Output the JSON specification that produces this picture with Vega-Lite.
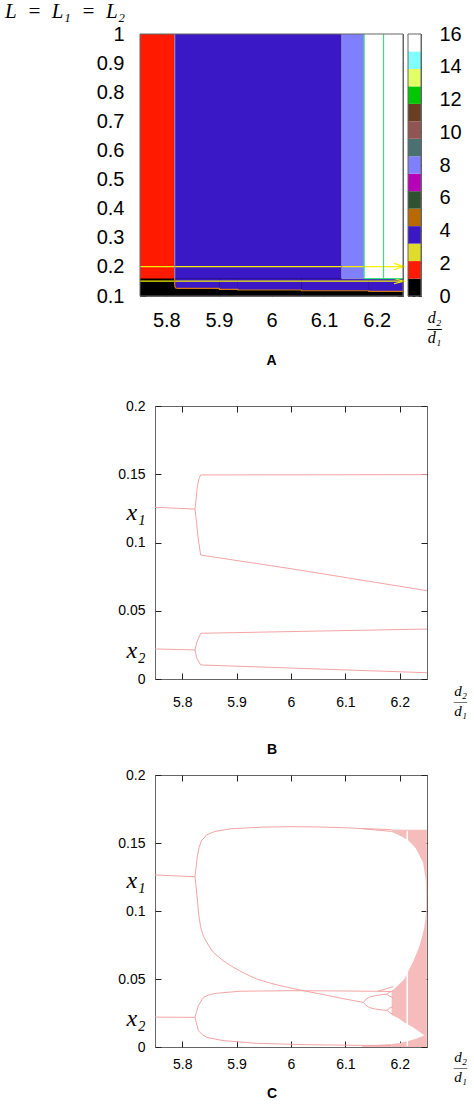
{
  "$schema": "https://vega.github.io/schema/vega-lite/v6.json",
  "padding": 0,
  "background": "white",
  "title": {"text": "L\u2002=\u2002L₁\u2002=\u2002L₂", "anchor": "start", "frame": "bounds", "font": "Liberation Serif", "fontStyle": "italic", "fontWeight": "normal", "fontSize": 21, "color": "#000", "dx": 5, "offset": 2},
  "config": {
    "view": {"stroke": "#666", "strokeWidth": 1},
    "axis": {"grid": false, "domain": false, "zindex": 1, "labelFont": "Liberation Sans", "labelColor": "#000", "tickColor": "#222", "titleFont": "Liberation Serif", "titleFontStyle": "italic", "titleFontWeight": "normal", "titleColor": "#000", "labelFlush": false, "labelOverlap": false},
    "title": {"font": "Liberation Sans", "fontWeight": "bold", "fontSize": 14, "color": "#000"}
  },
  "spacing": 29,
  "vconcat": [
    {
      "spacing": 0,
      "hconcat": [
        {"width": 95, "height": 1, "view": {"stroke": null}, "data": {"values": [{}]}, "mark": {"type": "rect", "opacity": 0}},
        {
          "width": 263, "height": 262,
          "title": {"text": "A", "orient": "bottom", "anchor": "middle", "offset": 24},
          "layer": [
            {
              "data": {"values": [
                {"x": 5.75, "x2": 6.25, "y": 0.1, "y2": 1, "v": 0},
                {"x": 5.75, "x2": 5.816, "y": 0.16, "y2": 1, "v": 1},
                {"x": 5.816, "x2": 6.1336, "y": 0.16, "y2": 1, "v": 3},
                {"x": 6.1336, "x2": 6.176, "y": 0.16, "y2": 1, "v": 7},
                {"x": 6.176, "x2": 6.25, "y": 0.16, "y2": 1, "v": 14},
                {"x": 5.816, "x2": 5.901, "y": 0.1265, "y2": 0.16, "v": 3},
                {"x": 5.901, "x2": 5.936, "y": 0.123, "y2": 0.16, "v": 3},
                {"x": 5.936, "x2": 6.057, "y": 0.1206, "y2": 0.16, "v": 3},
                {"x": 6.057, "x2": 6.185, "y": 0.118, "y2": 0.16, "v": 3},
                {"x": 6.185, "x2": 6.25, "y": 0.116, "y2": 0.16, "v": 3}
              ]},
              "mark": {"type": "rect"},
              "encoding": {
                "x": {"field": "x", "type": "quantitative", "scale": {"domain": [5.75, 6.25], "nice": false, "zero": false},
                      "axis": {"orient": "bottom", "values": [5.8, 5.9, 6, 6.1, 6.2], "format": "~g", "labelFontSize": 20, "tickSize": -6, "labelPadding": 20, "title": null}},
                "x2": {"field": "x2"},
                "y": {"field": "y", "type": "quantitative", "scale": {"domain": [0.1, 1], "nice": false, "zero": false},
                      "axis": {"orient": "left", "values": [0.1, 0.2, 0.3, 0.4, 0.5, 0.6, 0.7, 0.8, 0.9, 1], "format": "~g", "labelFontSize": 20, "tickSize": -6, "labelPadding": 22, "title": null}},
                "y2": {"field": "y2"},
                "color": {"field": "v", "type": "ordinal", "legend": null,
                          "scale": {"domain": [0,1,2,3,4,5,6,7,8,9,10,11,12,13,14], "range": ["#000000","#ff1a00","#e0dc2c","#3a18c6","#b86a00","#2e5232","#b800b8","#8080ff","#4b7070","#905552","#6a3e22","#00c800","#e2ff66","#80ffff","#ffffff"]}}
              }
            },
            {
              "data": {"values": [
                {"s": "a1", "o": 0, "x": 5.75, "y": 0.201, "k": "arrow"},
                {"s": "a1", "o": 1, "x": 6.2515, "y": 0.201, "k": "arrow"},
                {"s": "a1h", "o": 0, "x": 6.233, "y": 0.212, "k": "arrow"},
                {"s": "a1h", "o": 1, "x": 6.2515, "y": 0.201, "k": "arrow"},
                {"s": "a1h", "o": 2, "x": 6.233, "y": 0.19, "k": "arrow"},
                {"s": "a2", "o": 0, "x": 5.75, "y": 0.151, "k": "arrow"},
                {"s": "a2", "o": 1, "x": 6.2515, "y": 0.151, "k": "arrow"},
                {"s": "a2h", "o": 0, "x": 6.233, "y": 0.16, "k": "arrow"},
                {"s": "a2h", "o": 1, "x": 6.2515, "y": 0.151, "k": "arrow"},
                {"s": "a2h", "o": 2, "x": 6.233, "y": 0.142, "k": "arrow"},
                {"s": "g1", "o": 0, "x": 6.176, "y": 0.16, "k": "green"},
                {"s": "g1", "o": 1, "x": 6.176, "y": 1, "k": "green"},
                {"s": "g2", "o": 0, "x": 6.213, "y": 0.16, "k": "green"},
                {"s": "g2", "o": 1, "x": 6.213, "y": 1, "k": "green"},
                {"s": "g3", "o": 0, "x": 6.176, "y": 0.16, "k": "green"},
                {"s": "g3", "o": 1, "x": 6.25, "y": 0.16, "k": "green"},
                {"s": "e1", "o": 0, "x": 5.816, "y": 0.16, "k": "edge"},
                {"s": "e1", "o": 1, "x": 5.816, "y": 1, "k": "edge"},
                {"s": "e2", "o": 0, "x": 6.1336, "y": 0.16, "k": "edge"},
                {"s": "e2", "o": 1, "x": 6.1336, "y": 1, "k": "edge"},
                {"s": "e3", "o": 0, "x": 6.1336, "y": 0.16, "k": "edge"},
                {"s": "e3", "o": 1, "x": 6.176, "y": 0.16, "k": "edge"},
                {"s": "or", "o": 0, "x": 5.8158, "y": 0.16, "k": "orange"},
                {"s": "or", "o": 1, "x": 5.816, "y": 0.135, "k": "orange"},
                {"s": "or", "o": 2, "x": 5.818, "y": 0.1275, "k": "orange"},
                {"s": "or", "o": 3, "x": 5.822, "y": 0.1265, "k": "orange"},
                {"s": "or", "o": 4, "x": 5.901, "y": 0.1265, "k": "orange"},
                {"s": "or", "o": 5, "x": 5.901, "y": 0.123, "k": "orange"},
                {"s": "or", "o": 6, "x": 5.936, "y": 0.123, "k": "orange"},
                {"s": "or", "o": 7, "x": 5.936, "y": 0.1206, "k": "orange"},
                {"s": "or", "o": 8, "x": 6.057, "y": 0.1206, "k": "orange"},
                {"s": "or", "o": 9, "x": 6.057, "y": 0.118, "k": "orange"},
                {"s": "or", "o": 10, "x": 6.185, "y": 0.118, "k": "orange"},
                {"s": "or", "o": 11, "x": 6.185, "y": 0.116, "k": "orange"},
                {"s": "or", "o": 12, "x": 6.25, "y": 0.116, "k": "orange"}
              ]},
              "mark": {"type": "line", "strokeWidth": 1.2, "clip": false},
              "encoding": {
                "x": {"field": "x", "type": "quantitative", "scale": {"domain": [5.75, 6.25], "nice": false, "zero": false}, "axis": null},
                "y": {"field": "y", "type": "quantitative", "scale": {"domain": [0.1, 1], "nice": false, "zero": false}, "axis": null},
                "detail": {"field": "s"},
                "order": {"field": "o"},
                "stroke": {"field": "k", "type": "nominal", "legend": null,
                           "scale": {"domain": ["arrow", "green", "edge", "orange"], "range": ["#f4f000", "#3ee07a", "#8c8cc8", "#d07a10"]}}
              }
            },
            {
              "data": {"values": [{"x": 5.75, "x2": 6.25, "y": 0.1, "y2": 1}]},
              "mark": {"type": "rect", "fill": null, "stroke": "#666", "strokeWidth": 1},
              "encoding": {
                "x": {"field": "x", "type": "quantitative", "scale": {"domain": [5.75, 6.25], "nice": false, "zero": false},
                      "axis": {"orient": "top", "values": [5.8, 5.9, 6, 6.1, 6.2], "labels": false, "tickSize": -6, "title": null}},
                "x2": {"field": "x2"},
                "y": {"field": "y", "type": "quantitative", "scale": {"domain": [0.1, 1], "nice": false, "zero": false},
                      "axis": {"orient": "right", "values": [0.1, 0.2, 0.3, 0.4, 0.5, 0.6, 0.7, 0.8, 0.9, 1], "labels": false, "tickSize": -6, "title": null}},
                "y2": {"field": "y2"}
              }
            }
          ],
          "resolve": {"axis": {"x": "independent", "y": "independent"}}
        },
        {
          "width": 13, "height": 262,
          "layer": [
            {
              "data": {"values": [
                {"c": "", "v": 0, "lo": 0, "hi": 1.0667},
                {"c": "", "v": 1, "lo": 1.0667, "hi": 2.1333},
                {"c": "", "v": 2, "lo": 2.1333, "hi": 3.2},
                {"c": "", "v": 3, "lo": 3.2, "hi": 4.2667},
                {"c": "", "v": 4, "lo": 4.2667, "hi": 5.3333},
                {"c": "", "v": 5, "lo": 5.3333, "hi": 6.4},
                {"c": "", "v": 6, "lo": 6.4, "hi": 7.4667},
                {"c": "", "v": 7, "lo": 7.4667, "hi": 8.5333},
                {"c": "", "v": 8, "lo": 8.5333, "hi": 9.6},
                {"c": "", "v": 9, "lo": 9.6, "hi": 10.6667},
                {"c": "", "v": 10, "lo": 10.6667, "hi": 11.7333},
                {"c": "", "v": 11, "lo": 11.7333, "hi": 12.8},
                {"c": "", "v": 12, "lo": 12.8, "hi": 13.8667},
                {"c": "", "v": 13, "lo": 13.8667, "hi": 14.9333},
                {"c": "", "v": 14, "lo": 14.9333, "hi": 16}
              ]},
              "mark": {"type": "rect"},
              "encoding": {
                "x": {"field": "c", "type": "nominal", "scale": {"paddingInner": 0, "paddingOuter": 0},
                      "axis": {"orient": "bottom", "labels": false, "ticks": false, "title": ["d₂", "—", "d₁"], "titleFontSize": 16, "titleLineHeight": 10, "titleX": 26, "titleY": 21, "titleAlign": "center", "titleBaseline": "middle", "titleAngle": 0}},
                "y": {"field": "lo", "type": "quantitative", "scale": {"domain": [0, 16], "nice": false, "zero": false},
                      "axis": {"orient": "right", "values": [0, 2, 4, 6, 8, 10, 12, 14, 16], "format": "~g", "labelFontSize": 20, "tickSize": -13, "tickDash": [3, 3], "tickColor": "#000", "labelPadding": 31, "title": null}},
                "y2": {"field": "hi"},
                "color": {"field": "v", "type": "ordinal", "legend": null,
                          "scale": {"domain": [0,1,2,3,4,5,6,7,8,9,10,11,12,13,14], "range": ["#000000","#ff1a00","#e0dc2c","#3a18c6","#b86a00","#2e5232","#b800b8","#8080ff","#4b7070","#905552","#6a3e22","#00c800","#e2ff66","#80ffff","#ffffff"]}}
              }
            },
            {
              "data": {"values": [{"c": "", "lo": 0, "hi": 16}]},
              "mark": {"type": "rect", "fill": null, "stroke": "#666", "strokeWidth": 1},
              "encoding": {
                "x": {"field": "c", "type": "nominal", "scale": {"paddingInner": 0, "paddingOuter": 0}, "axis": null},
                "y": {"field": "lo", "type": "quantitative", "scale": {"domain": [0, 16], "nice": false, "zero": false}, "axis": null},
                "y2": {"field": "hi"}
              }
            }
          ],
          "resolve": {"axis": {"x": "independent", "y": "independent"}}
        }
      ]
    },
    {
      "spacing": 9,
      "vconcat": [
        {
          "spacing": 6,
          "hconcat": [
            {"width": 111, "height": 1, "view": {"stroke": null}, "data": {"values": [{}]}, "mark": {"type": "rect", "opacity": 0}},
            {
              "width": 272, "height": 273,
              "title": {"text": "B", "orient": "bottom", "anchor": "middle", "offset": 25, "dx": -19},
              "layer": [
                {
                  "data": {"values": [
                    {"s": "b1", "x": 5.75, "y": 0.1258}, {"s": "b1", "x": 5.8235, "y": 0.1245},
                    {"s": "b2", "x": 5.8235, "y": 0.1245}, {"s": "b2", "x": 5.8254, "y": 0.131}, {"s": "b2", "x": 5.8278, "y": 0.141}, {"s": "b2", "x": 5.831, "y": 0.147}, {"s": "b2", "x": 5.834, "y": 0.1495}, {"s": "b2", "x": 6.25, "y": 0.1497},
                    {"s": "b3", "x": 5.8235, "y": 0.1245}, {"s": "b3", "x": 5.8266, "y": 0.114}, {"s": "b3", "x": 5.8297, "y": 0.1018}, {"s": "b3", "x": 5.834, "y": 0.0908}, {"s": "b3", "x": 6.0, "y": 0.0808}, {"s": "b3", "x": 6.25, "y": 0.0647},
                    {"s": "b4", "x": 5.75, "y": 0.022}, {"s": "b4", "x": 5.8235, "y": 0.0213},
                    {"s": "b5", "x": 5.8235, "y": 0.0213}, {"s": "b5", "x": 5.827, "y": 0.027}, {"s": "b5", "x": 5.834, "y": 0.0335}, {"s": "b5", "x": 6.25, "y": 0.0366},
                    {"s": "b6", "x": 5.8235, "y": 0.0213}, {"s": "b6", "x": 5.827, "y": 0.015}, {"s": "b6", "x": 5.834, "y": 0.0103}, {"s": "b6", "x": 6.25, "y": 0.0046}
                  ]},
                  "mark": {"type": "line", "stroke": "#f3a4a4", "strokeWidth": 1},
                  "encoding": {
                    "x": {"field": "x", "type": "quantitative", "scale": {"domain": [5.75, 6.25], "nice": false, "zero": false},
                          "axis": {"orient": "bottom", "values": [5.8, 5.9, 6, 6.1, 6.2], "format": "~g", "labelFontSize": 14, "tickSize": -6, "labelPadding": 22,
                                   "title": ["d₂", "—", "d₁"], "titleFontSize": 15, "titleLineHeight": 10, "titleX": 305, "titleY": 11, "titleAlign": "center", "titleBaseline": "middle", "titleAngle": 0}},
                    "y": {"field": "y", "type": "quantitative", "scale": {"domain": [0, 0.2], "nice": false, "zero": false},
                          "axis": {"orient": "left", "values": [0, 0.0212, 0.05, 0.1, 0.1223, 0.15, 0.2],
                                   "labelExpr": "datum.value > 0.11 && datum.value < 0.13 ? 'x₁' : (datum.value > 0.015 && datum.value < 0.03 ? 'x₂' : format(datum.value, '~g'))",
                                   "labelFont": {"condition": {"test": "(datum.value > 0.11 && datum.value < 0.13) || (datum.value > 0.015 && datum.value < 0.03)", "value": "Liberation Serif"}, "value": "Liberation Sans"},
                                   "labelFontStyle": {"condition": {"test": "(datum.value > 0.11 && datum.value < 0.13) || (datum.value > 0.015 && datum.value < 0.03)", "value": "italic"}, "value": "normal"},
                                   "labelFontSize": {"condition": {"test": "(datum.value > 0.11 && datum.value < 0.13) || (datum.value > 0.015 && datum.value < 0.03)", "value": 24}, "value": 14},
                                   "tickOpacity": {"condition": {"test": "(datum.value > 0.11 && datum.value < 0.13) || (datum.value > 0.015 && datum.value < 0.03)", "value": 0}, "value": 1},
                                   "tickSize": -6, "labelPadding": 16, "title": null}},
                    "detail": {"field": "s"}
                  }
                },
                {
                  "data": {"values": [{"x": 6, "y": 0.1}]},
                  "mark": {"type": "point", "opacity": 0},
                  "encoding": {
                    "x": {"field": "x", "type": "quantitative", "scale": {"domain": [5.75, 6.25], "nice": false, "zero": false},
                          "axis": {"orient": "top", "values": [5.8, 5.9, 6, 6.1, 6.2], "labels": false, "tickSize": -6, "title": null}},
                    "y": {"field": "y", "type": "quantitative", "scale": {"domain": [0, 0.2], "nice": false, "zero": false},
                          "axis": {"orient": "right", "values": [0, 0.05, 0.1, 0.15, 0.2], "labels": false, "tickSize": -6, "title": null}}
                  }
                }
              ],
              "resolve": {"axis": {"x": "independent", "y": "independent"}}
            }
          ]
        },
        {
          "spacing": 6,
          "hconcat": [
            {"width": 111, "height": 1, "view": {"stroke": null}, "data": {"values": [{}]}, "mark": {"type": "rect", "opacity": 0}},
            {
              "width": 272, "height": 272,
              "title": {"text": "C", "orient": "bottom", "anchor": "middle", "offset": 3, "dx": -19},
              "layer": [
                {
                  "data": {"values": [
                    {"k": "up", "x": 6.185, "y": 0.158, "y2": 0.1598},
                    {"k": "up", "x": 6.195, "y": 0.1565, "y2": 0.1598},
                    {"k": "up", "x": 6.205, "y": 0.1545, "y2": 0.1598},
                    {"k": "up", "x": 6.215, "y": 0.152, "y2": 0.1598},
                    {"k": "up", "x": 6.222, "y": 0.1495, "y2": 0.1598},
                    {"k": "up", "x": 6.2297, "y": 0.146, "y2": 0.1598},
                    {"k": "up", "x": 6.236, "y": 0.141, "y2": 0.1598},
                    {"k": "up", "x": 6.2426, "y": 0.1358, "y2": 0.1598},
                    {"k": "up", "x": 6.2475, "y": 0.1235, "y2": 0.1598},
                    {"k": "up", "x": 6.2488, "y": 0.105, "y2": 0.1598},
                    {"k": "mid", "x": 6.185, "y": 0.0235, "y2": 0.041},
                    {"k": "mid", "x": 6.196, "y": 0.0215, "y2": 0.045},
                    {"k": "mid", "x": 6.2085, "y": 0.018, "y2": 0.05},
                    {"k": "mid", "x": 6.224, "y": 0.0145, "y2": 0.0623},
                    {"k": "mid", "x": 6.2365, "y": 0.011, "y2": 0.0745},
                    {"k": "mid", "x": 6.2445, "y": 0.0088, "y2": 0.0868},
                    {"k": "mid", "x": 6.2475, "y": 0.008, "y2": 0.095},
                    {"k": "mid", "x": 6.2488, "y": 0.008, "y2": 0.105},
                    {"k": "low", "x": 6.185, "y": 0, "y2": 0.0022},
                    {"k": "low", "x": 6.2, "y": 0, "y2": 0.003},
                    {"k": "low", "x": 6.215, "y": 0, "y2": 0.0045},
                    {"k": "low", "x": 6.23, "y": 0, "y2": 0.006},
                    {"k": "low", "x": 6.245, "y": 0, "y2": 0.0085},
                    {"k": "low", "x": 6.2488, "y": 0, "y2": 0.0085},
                    {"k": "edge", "x": 6.2488, "y": 0, "y2": 0.1598},
                    {"k": "edge", "x": 6.25, "y": 0, "y2": 0.1598},
                    {"k": "floor", "x": 6.13, "y": 0, "y2": 0.0008},
                    {"k": "floor", "x": 6.185, "y": 0, "y2": 0.0022}
                  ]},
                  "mark": {"type": "area", "color": "#f6bcbc", "opacity": 1},
                  "encoding": {
                    "x": {"field": "x", "type": "quantitative", "scale": {"domain": [5.75, 6.25], "nice": false, "zero": false}, "axis": null},
                    "y": {"field": "y", "type": "quantitative", "scale": {"domain": [0, 0.2], "nice": false, "zero": false}, "axis": null},
                    "y2": {"field": "y2"},
                    "detail": {"field": "k"}
                  }
                },
                {
                  "data": {"values": [{"x": 6.2137, "y": 0.0005, "y2": 0.159}]},
                  "mark": {"type": "rule", "color": "#ffffff", "strokeWidth": 1.5},
                  "encoding": {
                    "x": {"field": "x", "type": "quantitative", "scale": {"domain": [5.75, 6.25], "nice": false, "zero": false}, "axis": null},
                    "y": {"field": "y", "type": "quantitative", "scale": {"domain": [0, 0.2], "nice": false, "zero": false}, "axis": null},
                    "y2": {"field": "y2"}
                  }
                },
                {
                  "data": {"values": [
                    {"s": "c1", "x": 5.75, "y": 0.1265}, {"s": "c1", "x": 5.8235, "y": 0.1252},
                    {"s": "c2", "x": 5.8235, "y": 0.1252}, {"s": "c2", "x": 5.8254, "y": 0.132}, {"s": "c2", "x": 5.8278, "y": 0.14}, {"s": "c2", "x": 5.831, "y": 0.147}, {"s": "c2", "x": 5.836, "y": 0.152}, {"s": "c2", "x": 5.845, "y": 0.156}, {"s": "c2", "x": 5.86, "y": 0.1585}, {"s": "c2", "x": 5.89, "y": 0.1605}, {"s": "c2", "x": 5.95, "y": 0.1617}, {"s": "c2", "x": 6.0, "y": 0.162}, {"s": "c2", "x": 6.05, "y": 0.1618}, {"s": "c2", "x": 6.1, "y": 0.1612}, {"s": "c2", "x": 6.13, "y": 0.1606}, {"s": "c2", "x": 6.16, "y": 0.1602}, {"s": "c2", "x": 6.185, "y": 0.1598},
                    {"s": "c3", "x": 6.13, "y": 0.1606}, {"s": "c3", "x": 6.155, "y": 0.1596}, {"s": "c3", "x": 6.185, "y": 0.1585},
                    {"s": "c4", "x": 5.8235, "y": 0.1252}, {"s": "c4", "x": 5.8255, "y": 0.118}, {"s": "c4", "x": 5.828, "y": 0.108}, {"s": "c4", "x": 5.8305, "y": 0.097}, {"s": "c4", "x": 5.834, "y": 0.088}, {"s": "c4", "x": 5.839, "y": 0.0815}, {"s": "c4", "x": 5.848, "y": 0.075}, {"s": "c4", "x": 5.857, "y": 0.0696}, {"s": "c4", "x": 5.875, "y": 0.0635}, {"s": "c4", "x": 5.894, "y": 0.0586}, {"s": "c4", "x": 5.915, "y": 0.054}, {"s": "c4", "x": 5.937, "y": 0.05}, {"s": "c4", "x": 5.96, "y": 0.0472}, {"s": "c4", "x": 5.98, "y": 0.0451}, {"s": "c4", "x": 6.0227, "y": 0.0414}, {"s": "c4", "x": 6.06, "y": 0.0385}, {"s": "c4", "x": 6.09, "y": 0.036}, {"s": "c4", "x": 6.133, "y": 0.0328},
                    {"s": "c5", "x": 6.133, "y": 0.0328}, {"s": "c5", "x": 6.138, "y": 0.0352}, {"s": "c5", "x": 6.145, "y": 0.0368}, {"s": "c5", "x": 6.155, "y": 0.0378}, {"s": "c5", "x": 6.168, "y": 0.0385}, {"s": "c5", "x": 6.176, "y": 0.0388},
                    {"s": "c6", "x": 6.176, "y": 0.0388}, {"s": "c6", "x": 6.182, "y": 0.0405}, {"s": "c6", "x": 6.188, "y": 0.0415},
                    {"s": "c7", "x": 6.176, "y": 0.0388}, {"s": "c7", "x": 6.182, "y": 0.0372}, {"s": "c7", "x": 6.188, "y": 0.0362},
                    {"s": "c8", "x": 6.133, "y": 0.0328}, {"s": "c8", "x": 6.138, "y": 0.0304}, {"s": "c8", "x": 6.145, "y": 0.0289}, {"s": "c8", "x": 6.155, "y": 0.0279}, {"s": "c8", "x": 6.168, "y": 0.0272}, {"s": "c8", "x": 6.176, "y": 0.027},
                    {"s": "c9", "x": 6.176, "y": 0.027}, {"s": "c9", "x": 6.182, "y": 0.0288}, {"s": "c9", "x": 6.188, "y": 0.0298},
                    {"s": "c10", "x": 6.176, "y": 0.027}, {"s": "c10", "x": 6.182, "y": 0.0252}, {"s": "c10", "x": 6.188, "y": 0.024},
                    {"s": "c11", "x": 5.75, "y": 0.022}, {"s": "c11", "x": 5.8235, "y": 0.0218},
                    {"s": "c12", "x": 5.8235, "y": 0.0218}, {"s": "c12", "x": 5.8265, "y": 0.026}, {"s": "c12", "x": 5.8297, "y": 0.0304}, {"s": "c12", "x": 5.839, "y": 0.0365}, {"s": "c12", "x": 5.85, "y": 0.0385}, {"s": "c12", "x": 5.863, "y": 0.0395}, {"s": "c12", "x": 5.906, "y": 0.041}, {"s": "c12", "x": 6.0, "y": 0.0414}, {"s": "c12", "x": 6.09, "y": 0.0412}, {"s": "c12", "x": 6.15, "y": 0.041}, {"s": "c12", "x": 6.185, "y": 0.0408},
                    {"s": "c13", "x": 6.16, "y": 0.041}, {"s": "c13", "x": 6.175, "y": 0.0428}, {"s": "c13", "x": 6.188, "y": 0.0445},
                    {"s": "c14", "x": 5.8235, "y": 0.0218}, {"s": "c14", "x": 5.8265, "y": 0.017}, {"s": "c14", "x": 5.8297, "y": 0.012}, {"s": "c14", "x": 5.837, "y": 0.0092}, {"s": "c14", "x": 5.845, "y": 0.0071}, {"s": "c14", "x": 5.875, "y": 0.0047}, {"s": "c14", "x": 5.937, "y": 0.0027}, {"s": "c14", "x": 6.028, "y": 0.0017}, {"s": "c14", "x": 6.13, "y": 0.0012}, {"s": "c14", "x": 6.185, "y": 0.0012}
                  ]},
                  "mark": {"type": "line", "stroke": "#f3a4a4", "strokeWidth": 1},
                  "encoding": {
                    "x": {"field": "x", "type": "quantitative", "scale": {"domain": [5.75, 6.25], "nice": false, "zero": false},
                          "axis": {"orient": "bottom", "values": [5.8, 5.9, 6, 6.1, 6.2], "format": "~g", "labelFontSize": 14, "tickSize": -6, "labelPadding": 16,
                                   "title": ["d₂", "—", "d₁"], "titleFontSize": 15, "titleLineHeight": 10, "titleX": 305, "titleY": 9, "titleAlign": "center", "titleBaseline": "middle", "titleAngle": 0}},
                    "y": {"field": "y", "type": "quantitative", "scale": {"domain": [0, 0.2], "nice": false, "zero": false},
                          "axis": {"orient": "left", "values": [0, 0.0211, 0.05, 0.1, 0.1223, 0.15, 0.2],
                                   "labelExpr": "datum.value > 0.11 && datum.value < 0.13 ? 'x₁' : (datum.value > 0.015 && datum.value < 0.03 ? 'x₂' : format(datum.value, '~g'))",
                                   "labelFont": {"condition": {"test": "(datum.value > 0.11 && datum.value < 0.13) || (datum.value > 0.015 && datum.value < 0.03)", "value": "Liberation Serif"}, "value": "Liberation Sans"},
                                   "labelFontStyle": {"condition": {"test": "(datum.value > 0.11 && datum.value < 0.13) || (datum.value > 0.015 && datum.value < 0.03)", "value": "italic"}, "value": "normal"},
                                   "labelFontSize": {"condition": {"test": "(datum.value > 0.11 && datum.value < 0.13) || (datum.value > 0.015 && datum.value < 0.03)", "value": 24}, "value": 14},
                                   "tickOpacity": {"condition": {"test": "(datum.value > 0.11 && datum.value < 0.13) || (datum.value > 0.015 && datum.value < 0.03)", "value": 0}, "value": 1},
                                   "tickSize": -6, "labelPadding": 16, "title": null}},
                    "detail": {"field": "s"}
                  }
                },
                {
                  "data": {"values": [{"x": 6, "y": 0.1}]},
                  "mark": {"type": "point", "opacity": 0},
                  "encoding": {
                    "x": {"field": "x", "type": "quantitative", "scale": {"domain": [5.75, 6.25], "nice": false, "zero": false},
                          "axis": {"orient": "top", "values": [5.8, 5.9, 6, 6.1, 6.2], "labels": false, "tickSize": -6, "title": null}},
                    "y": {"field": "y", "type": "quantitative", "scale": {"domain": [0, 0.2], "nice": false, "zero": false},
                          "axis": {"orient": "right", "values": [0, 0.05, 0.1, 0.15, 0.2], "labels": false, "tickSize": -6, "title": null}}
                  }
                }
              ],
              "resolve": {"axis": {"x": "independent", "y": "independent"}}
            }
          ]
        }
      ]
    }
  ]
}
